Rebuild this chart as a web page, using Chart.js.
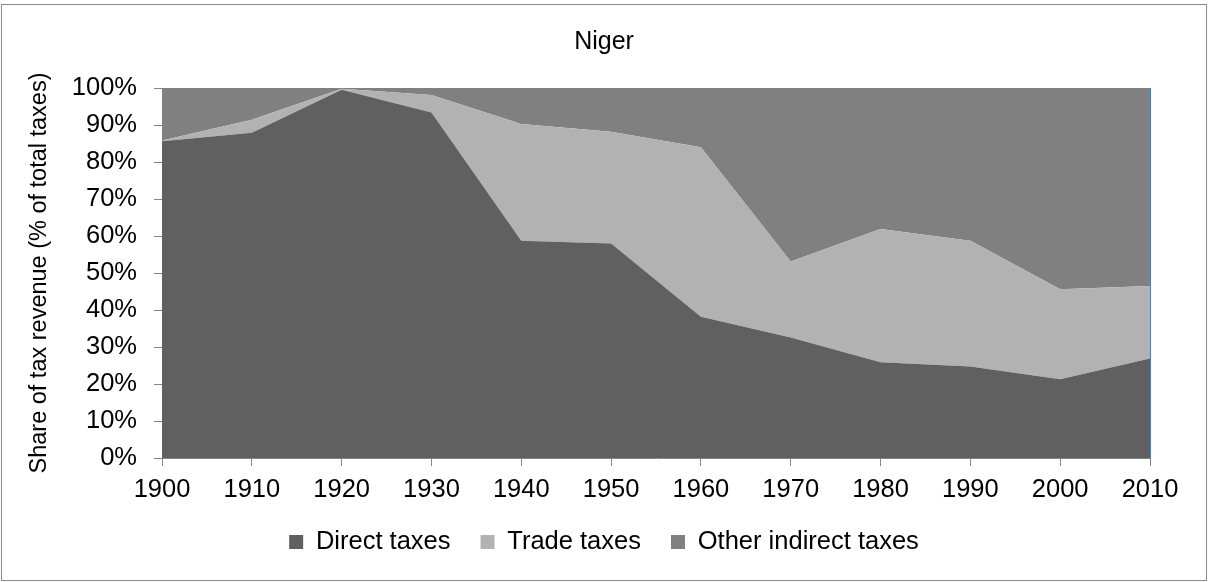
<!DOCTYPE html>
<html>
<head>
<meta charset="utf-8">
<script src="https://cdn.jsdelivr.net/npm/chart.js@4.4.1/dist/chart.umd.min.js"></script>
<style>
  html, body { margin: 0; padding: 0; background: #ffffff; }
  #wrap { width: 1208px; height: 582px; position: relative; }
</style>
</head>
<body>
<div id="wrap"><canvas id="c" width="1208" height="582"></canvas></div>
<script>
// ---- data ----
const categories = ['1900','1910','1920','1930','1940','1950','1960','1970','1980','1990','2000','2010'];
const directTaxes = [85.6, 87.9, 99.5, 93.4, 58.7, 58.0, 38.2, 32.6, 25.9, 24.7, 21.3, 26.9];
const tradeTaxes  = [0.2, 3.5, 0.3, 4.7, 31.6, 30.2, 45.8, 20.5, 36.0, 34.0, 24.3, 19.6];
const otherIndirectTaxes = [14.2, 8.6, 0.2, 1.9, 9.7, 11.8, 16.0, 46.9, 38.1, 41.3, 54.4, 53.5];
const yTickValues = [0, 10, 20, 30, 40, 50, 60, 70, 80, 90, 100];
const seriesNames = ['Direct taxes', 'Trade taxes', 'Other indirect taxes'];
const chartTitle = 'Niger';
const yAxisTitle = 'Share of tax revenue (% of total taxes)';

const FONT = "'Liberation Sans', Arial, sans-serif";
const AXIS = '#868686';

const framePlugin = {
  id: 'frame',
  beforeDraw(chart) {
    const ctx = chart.ctx;
    ctx.save();
    ctx.fillStyle = '#ffffff';
    ctx.fillRect(0, 0, chart.width, chart.height);
    ctx.strokeStyle = '#8a8a8a';
    ctx.lineWidth = 1;
    ctx.strokeRect(1.5, 4.5, 1205, 576);
    ctx.restore();
  },
  afterDraw(chart) {
    const a = chart.chartArea;
    const ctx = chart.ctx;
    ctx.save();
    ctx.strokeStyle = '#4f81bd';
    ctx.lineWidth = 1;
    ctx.beginPath();
    ctx.moveTo(Math.round(a.right) + 0.5, a.top);
    ctx.lineTo(Math.round(a.right) + 0.5, a.bottom);
    ctx.stroke();
    ctx.restore();
  }
};

new Chart(document.getElementById('c'), {
  type: 'line',
  data: {
    labels: categories,
    datasets: [
      { label: seriesNames[0], data: directTaxes, backgroundColor: '#606060', borderColor: '#606060', fill: 'origin' },
      { label: seriesNames[1], data: tradeTaxes, backgroundColor: '#b2b2b2', borderColor: '#b2b2b2', fill: '-1' },
      { label: seriesNames[2], data: otherIndirectTaxes, backgroundColor: '#808080', borderColor: '#808080', fill: '-1' }
    ]
  },
  options: {
    responsive: false,
    animation: false,
    devicePixelRatio: 1,
    layout: { padding: { left: 0, right: 0, top: 0, bottom: 17.25 } },
    elements: {
      line: { borderWidth: 0, tension: 0 },
      point: { radius: 0, hoverRadius: 0 }
    },
    plugins: {
      title: {
        display: true,
        text: chartTitle,
        color: '#000000',
        font: { family: FONT, size: 25, weight: 'normal' },
        padding: { top: 27, bottom: 31 }
      },
      legend: {
        position: 'bottom',
        labels: {
          color: '#000000',
          font: { family: FONT, size: 25.5 },
          boxWidth: 14,
          boxHeight: 14,
          padding: 30
        }
      },
      tooltip: { enabled: false }
    },
    scales: {
      x: {
        type: 'category',
        offset: false,
        z: 1,
        grid: { drawOnChartArea: false, tickLength: 8, tickColor: AXIS, color: AXIS },
        border: { display: true, color: AXIS, width: 1 },
        ticks: { color: '#000000', font: { family: FONT, size: 25.5 }, padding: 8.5, maxRotation: 0, autoSkip: false },
        afterFit(scale) { scale.height = 41.25; scale.paddingRight = 58; scale.paddingLeft = 0; }
      },
      y: {
        stacked: true,
        min: 0,
        max: 100,
        z: 1,
        afterBuildTicks(scale) { scale.ticks = yTickValues.map(v => ({ value: v })); },
        grid: {
          drawOnChartArea: true,
          tickLength: 8,
          tickColor: AXIS,
          color: (c) => (c.tick && c.tick.value === 100 ? '#a0a0a0' : 'rgba(0,0,0,0)')
        },
        border: { display: true, color: AXIS, width: 1 },
        ticks: {
          color: '#000000',
          font: { family: FONT, size: 25.5 },
          padding: 17,
          callback: (v) => v + '%'
        },
        title: {
          display: true,
          text: yAxisTitle,
          color: '#000000',
          font: { family: FONT, size: 23.5 },
          padding: { top: 25, bottom: 0 }
        },
        afterFit(scale) { scale.width = 162; }
      }
    }
  },
  plugins: [framePlugin]
});
</script>
</body>
</html>
